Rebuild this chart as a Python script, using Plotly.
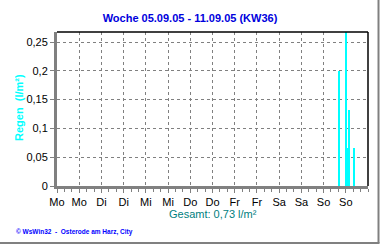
import plotly.graph_objects as go

# Data: hours since Monday 00:00 and rain amounts (l/m²)
rain_hours = [152.5, 155.9, 157.0, 157.6, 160.7]
rain_values = [0.20, 0.27, 0.066, 0.132, 0.066]

x_tick_hours = [0, 12, 24, 36, 48, 60, 72, 84, 96, 108, 120, 132, 144, 156]
x_tick_labels = ["Mo", "Mo", "Di", "Di", "Mi", "Mi", "Do", "Do", "Fr", "Fr", "Sa", "Sa", "So", "So"]
y_tick_vals = [0, 0.05, 0.1, 0.15, 0.2, 0.25]
y_tick_labels = ["0", "0,05", "0,1", "0,15", "0,2", "0,25"]

title_text = "Woche 05.09.05 - 11.09.05 (KW36)"
y_title_text = "Regen  (l/m²)"
total_text = "Gesamt: 0,73 l/m²"
footer_text = "© WsWin32  -  Osterode am Harz, City"

W, H = 380, 245
L, R, T, B = 57, 12, 32, 59
pw, ph = W - L - R, H - T - B

def px_x(p):
    return (p - L) / pw

def px_y(p):
    return (H - B - p) / ph

fig = go.Figure()
fig.add_trace(go.Bar(
    x=rain_hours, y=rain_values, width=0.6,
    marker=dict(color="#00FFFF", line=dict(width=0)),
    showlegend=False, hoverinfo="skip",
))

font = "Liberation Sans, Arial, sans-serif"

fig.update_layout(
    width=W, height=H,
    margin=dict(l=L, r=R, t=T, b=B, pad=0),
    paper_bgcolor="white", plot_bgcolor="white",
    font=dict(family=font, size=11, color="black"),
    bargap=0,
    title=dict(text="<b>" + title_text + "</b>", x=0.5, xref="container", xanchor="center",
               y=1 - 18 / H, yref="container", yanchor="middle",
               font=dict(family=font, size=11, color="#0000DD")),
    xaxis=dict(
        range=[0, 168], tickmode="array", tickvals=x_tick_hours, ticktext=x_tick_labels,
        showgrid=True, gridcolor="#808080", griddash="3px,3px", gridwidth=1,
        showline=True, linecolor="#808080", linewidth=3,
        ticks="outside", ticklen=4, tickcolor="#808080", tickwidth=1,
        minor=dict(dtick=4, tick0=0, ticks="outside", ticklen=3, tickcolor="#808080", showgrid=False),
        tickfont=dict(family=font, size=11, color="black"),
        fixedrange=True, zeroline=False,
    ),
    yaxis=dict(
        range=[0, 0.2674], tickmode="array", tickvals=y_tick_vals, ticktext=y_tick_labels,
        showgrid=True, gridcolor="#808080", griddash="3px,3px", gridwidth=1,
        showline=True, linecolor="#808080", linewidth=3,
        ticks="outside", ticklen=4, tickcolor="#808080", tickwidth=1,
        tickfont=dict(family=font, size=11, color="black"),
        fixedrange=True, zeroline=False,
    ),
    shapes=[
        dict(type="line", xref="paper", yref="paper", x0=0, x1=1, y0=1, y1=1,
             line=dict(color="black", width=1.5)),
        dict(type="line", xref="paper", yref="paper", x0=1, x1=1, y0=0, y1=1,
             line=dict(color="black", width=1.5)),
        dict(type="line", xref="paper", yref="paper", x0=px_x(378.5), x1=px_x(378.5),
             y0=px_y(243), y1=px_y(0), line=dict(color="#808080", width=2)),
        dict(type="line", xref="paper", yref="paper", x0=px_x(0), x1=px_x(379.5),
             y0=px_y(243), y1=px_y(243), line=dict(color="#808080", width=2)),
    ],
    annotations=[
        dict(text="<b>" + y_title_text + "</b>", xref="paper", yref="paper", x=px_x(19), y=px_y(108),
             xanchor="center", yanchor="middle", textangle=-90, showarrow=False,
             font=dict(family=font, size=11, color="#00FFFF")),
        dict(text=total_text, xref="paper", yref="paper", x=px_x(213), y=px_y(214),
             xanchor="center", yanchor="middle", showarrow=False,
             font=dict(family=font, size=11, color="#008080")),
        dict(text="<b>" + footer_text + "</b>", xref="paper", yref="paper", x=px_x(14), y=px_y(232),
             xanchor="left", yanchor="middle", showarrow=False,
             font=dict(family=font, size=6.5, color="#0000FF")),
    ],
)

fig.write_html("out.html")
